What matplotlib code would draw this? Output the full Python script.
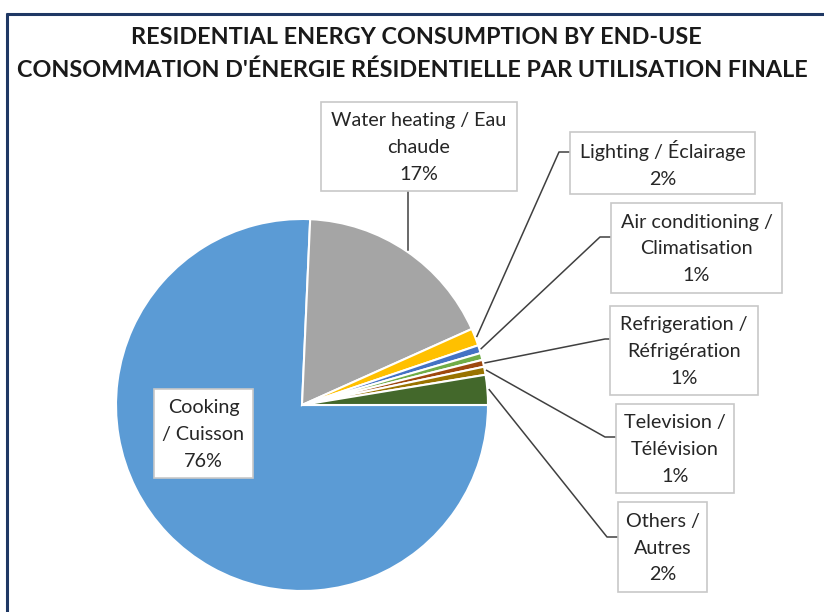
import numpy as np
import matplotlib
matplotlib.use("Agg")
import matplotlib.pyplot as plt
from matplotlib.patches import Rectangle

# Andeler (prosent), lest av figuren - med klokka fra øst
names = ["Cooking", "Water heating", "Lighting", "Air conditioning",
         "(unlabelled)", "Refrigeration", "Television", "Others"]
shares = [75.7, 17.6, 1.5, 0.7, 0.6, 0.6, 0.7, 2.6]
colors = ["#5B9BD5", "#A5A5A5", "#FFC000", "#4472C4",
          "#70AD47", "#9E480E", "#997300", "#43682B"]
labels = ["Cooking\n/ Cuisson\n76%",
          "Water heating / Eau\nchaude\n17%",
          "Lighting / Éclairage\n2%",
          "Air conditioning /\nClimatisation\n1%",
          None,
          "Refrigeration /\nRéfrigération\n1%",
          "Television /\nTélévision\n1%",
          "Others /\nAutres\n2%"]

title1 = "RESIDENTIAL ENERGY CONSUMPTION BY END-USE"
title2 = "CONSOMMATION D'ÉNERGIE RÉSIDENTIELLE PAR UTILISATION FINALE"

W, H = 824, 612
# etikettbokser (piksler: x0, y0, x1, y1) og knekkpunkt for linjene
boxes = {1: (321, 102, 517, 191), 2: (570, 132, 755, 194),
         3: (611, 203, 782, 293), 5: (610, 306, 758, 395),
         6: (616, 404, 734, 493), 7: (618, 502, 707, 592),
         0: (154, 389, 253, 478)}
elbows = {2: (559, 152), 3: (600, 237), 5: (605, 339),
          6: (605, 437), 7: (607, 537)}

plt.rcParams['font.family'] = ['Lato', 'DejaVu Sans']

fig = plt.figure(figsize=(W/100, H/100), dpi=100)
cx, cy, r = 302, 405, 186
ax = fig.add_axes([(cx - r)/W, (H - cy - r)/H, 2*r/W, 2*r/H])
wedges, _ = ax.pie(shares, colors=colors, startangle=0, counterclock=False,
                   wedgeprops=dict(edgecolor="white", linewidth=1.5))
ax.set_xlim(-1, 1); ax.set_ylim(-1, 1)

ov = fig.add_axes([0, 0, 1, 1])
ov.set_xlim(0, W); ov.set_ylim(H, 0)
ov.axis("off")

fig.canvas.draw()
renderer = fig.canvas.get_renderer()

def to_px(x, y):
    d = ax.transData.transform((x, y))
    return ov.transData.inverted().transform(d)

txtcol = "#262626"
for i, lab in enumerate(labels):
    if lab is None:
        continue
    x0, y0, x1, y1 = boxes[i]
    ov.add_patch(Rectangle((x0, y0), x1 - x0, y1 - y0, facecolor="white",
                           edgecolor="#C8C8C8", lw=1.2, zorder=3))
    ov.text((x0 + x1)/2, (y0 + y1)/2 + 1, lab, ha="center", va="center",
            fontsize=14.2, color=txtcol, linespacing=1.7, zorder=4)
    if i == 0:
        continue
    w = wedges[i]
    mid = np.deg2rad((w.theta1 + w.theta2)/2)
    px, py = to_px(1.01*np.cos(mid), 1.01*np.sin(mid))
    if i == 1:
        ov.plot([px, px], [y1, py], color="#404040", lw=1.1, zorder=2)
    else:
        ex, ey = elbows[i]
        ov.plot([x0, ex, px], [ey, ey, py], color="#404040", lw=1.1, zorder=2)

# tittel: tilpass størrelsen slik at linje 2 blir ca. 790 px bred
t1 = ov.text(416, 37, title1, ha="center", va="center", fontsize=15,
             fontweight="bold", color="#1a1a1a")
t2 = ov.text(412, 70, title2, ha="center", va="center", fontsize=15,
             fontweight="bold", color="#1a1a1a")
scale = 790 / t2.get_window_extent(renderer).width
t1.set_fontsize(15*scale); t2.set_fontsize(15*scale)

# ramme (topp og venstre)
ov.plot([6, W], [13.5, 13.5], color="#1F3864", lw=2.2, solid_capstyle="butt")
ov.plot([7.5, 7.5], [12.5, H], color="#1F3864", lw=2.2, solid_capstyle="butt")

fig.savefig("out.png", dpi=100)
